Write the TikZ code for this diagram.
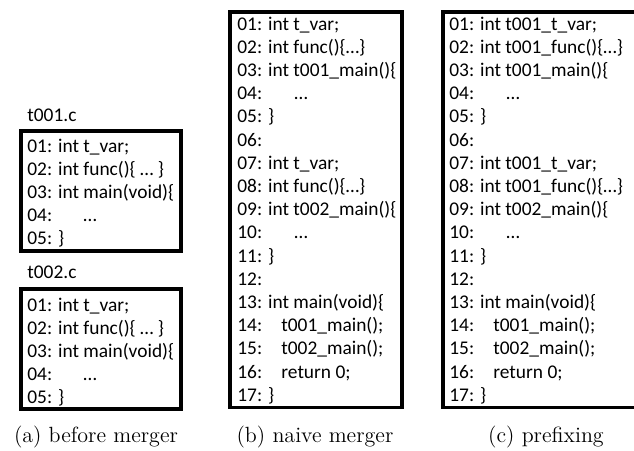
\documentclass[tikz,border=0pt]{standalone}
\usepackage{fontspec}
\newfontfamily\codefont{Carlito}
\begin{document}
\begin{tikzpicture}[x=0.5pt,y=-0.5pt,
  codebox/.style={draw=black, line width=1.7pt, inner sep=0pt, outer sep=0pt, anchor=north west},
  codeline/.style={anchor=base west, inner sep=0pt, font=\codefont\fontsize{9.7}{11}\selectfont},
  filelabel/.style={anchor=base west, inner sep=0pt, font=\codefont\fontsize{9.7}{11}\selectfont},
  caption/.style={anchor=base, inner sep=0pt, font=\fontsize{11}{13}\selectfont}]
\useasboundingbox (0,0) rectangle (634,451);
\clip (0,0) rectangle (634,451);

% (a) the two source files before merging
\node[filelabel] (labA) at (27,121) {t001.c};
\node[codebox, minimum width=80pt, minimum height=60pt] (boxA) at (21,131) {};
\foreach \txt [count=\i from 0] in {
  01: int t\_var;,
  02: int func()\{ … \},
  03: int main(void)\{,
  \makebox[28pt][l]{04:}…,
  05: \}}
  \node[codeline] (a\i) at (27,152+23.2*\i) {\txt};

\node[filelabel] (labB) at (27,278) {t002.c};
\node[codebox, minimum width=80pt, minimum height=60pt] (boxA2) at (21,289) {};
\foreach \txt [count=\i from 0] in {
  01: int t\_var;,
  02: int func()\{ … \},
  03: int main(void)\{,
  \makebox[28pt][l]{04:}…,
  05: \}}
  \node[codeline] (aa\i) at (27,311+23.2*\i) {\txt};

\node[caption] (capA) at (96,442) {(a) before merger};

% (b) naive concatenation of both files
\node[codebox, minimum width=86pt, minimum height=197.75pt] (boxB) at (230,12) {};
\foreach \txt [count=\i from 0] in {
  01: int t\_var;,
  02: int func()\{…\},
  03: int t001\_main()\{,
  \makebox[28.5pt][l]{04:}…,
  05: \},
  06:,
  07: int t\_var;,
  08: int func()\{…\},
  09: int t002\_main()\{,
  \makebox[28.5pt][l]{10:}…,
  11: \},
  12:,
  13: int main(void)\{,
  \makebox[22pt][l]{14:}t001\_main();,
  \makebox[22pt][l]{15:}t002\_main();,
  \makebox[22pt][l]{16:}return 0;,
  17: \}}
  \node[codeline] (b\i) at (237,30+23.2*\i) {\txt};

\node[caption] (capB) at (315,442) {(b) naive merger};

% (c) merging with prefixed identifiers
\node[codebox, minimum width=108pt, minimum height=197.75pt] (boxC) at (443,12) {};
\foreach \txt [count=\i from 0] in {
  01: int t001\_t\_var;,
  02: int t001\_func()\{…\},
  03: int t001\_main()\{,
  \makebox[28.5pt][l]{04:}…,
  05: \},
  06:,
  07: int t001\_t\_var;,
  08: int t001\_func()\{…\},
  09: int t002\_main()\{,
  \makebox[28.5pt][l]{10:}…,
  11: \},
  12:,
  13: int main(void)\{,
  \makebox[22pt][l]{14:}t001\_main();,
  \makebox[22pt][l]{15:}t002\_main();,
  \makebox[22pt][l]{16:}return 0;,
  17: \}}
  \node[codeline] (c\i) at (449,30+23.2*\i) {\txt};

\node[caption] (capC) at (546,442) {(c) prefixing};
\end{tikzpicture}
\end{document}
